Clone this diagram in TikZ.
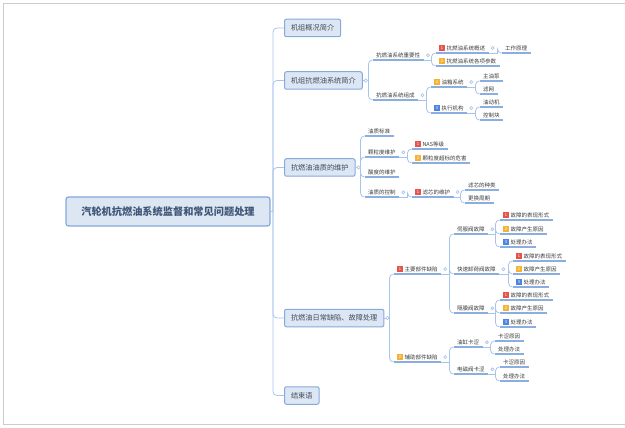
\documentclass[tikz,border=0pt]{standalone}
\usepackage{fontspec}
\setmainfont{Noto Sans CJK SC}
\usepackage{tikz}
\usetikzlibrary{calc}
\definecolor{boxfill}{HTML}{DDE7F3}
\definecolor{boxline}{HTML}{84A9DC}
\definecolor{roottext}{HTML}{3F5677}
\definecolor{topictext}{HTML}{3E4A5C}
\definecolor{leaftext}{HTML}{3A3A3A}
\definecolor{ulinecol}{HTML}{8AAEE2}
\definecolor{linkcol}{HTML}{A9C4EA}
\definecolor{framecol}{HTML}{CCCCCC}
\definecolor{prioRed}{HTML}{E5534B}
\definecolor{prioOrange}{HTML}{F5B335}
\definecolor{prioBlue}{HTML}{4C84E0}
\tikzstyle{root} = [draw=boxline, fill=boxfill, rounded corners=2.5pt, line width=1.2pt, minimum width=204pt, minimum height=29pt, font=\fontsize{10.2}{12}\selectfont\bfseries, text=roottext]
\tikzstyle{topic} = [draw=boxline, fill=boxfill, rounded corners=2pt, line width=1pt, inner xsep=6.5pt, minimum height=17.5pt, anchor=west, font=\fontsize{7.2}{8}\selectfont, text=topictext]
\tikzstyle{uline} = [draw=ulinecol, line width=1.3pt]
\tikzstyle{leaf} = [inner xsep=3.5pt, inner ysep=2pt, anchor=south west, font=\fontsize{5.5}{6}\selectfont, text=leaftext, append after command={(\tikzlastnode.south west) edge[uline] (\tikzlastnode.south east)}]
\tikzstyle{link} = [draw=linkcol, line width=0.8pt]
\tikzstyle{knob} = [draw=linkcol, fill=white, line width=0.6pt]
\tikzstyle{frame} = [draw=framecol, line width=0.8pt]
% priority badge in front of a topic
\newcommand{\prio}[2]{{\setlength{\fboxsep}{0pt}\raisebox{-0.5pt}{\colorbox{#1}{\makebox[5.5pt]{\rule{0pt}{5.5pt}\raisebox{0.9pt}{\fontsize{4}{4}\selectfont\color{white}#2}}}}}\hspace{1.8pt}}
% parent anchor -> fork -> child anchor
\newcommand{\branch}[3][4]{%
	\coordinate (fork) at ($(#3 |- #2)+(-#1,0)$);
	\draw[link] (#2) -- (fork);
	\draw[link, rounded corners=4pt] (fork) |- (#3);
}

\begin{document}
\begin{tikzpicture}[x=1pt, y=-1pt]
		\useasboundingbox (0,0) rectangle (625,428);
		\draw[frame] (3,3.5) -- (625,3.5);
		\draw[frame] (3.5,3) -- (3.5,424);
		\draw[frame] (3,424) -- (625,424);
		
		\node[root] (main) at (168,211.5) {汽轮机抗燃油系统监督和常见问题处理};
		
		\node[topic] (gen) at (284,28) {机组概况简介};
		\node[topic] (intro) at (284,80.5) {机组抗燃油系统简介};
		\node[topic] (oil) at (284,167.5) {抗燃油油质的维护};
		\node[topic] (fault) at (284,318) {抗燃油日常缺陷、故障处理};
		\node[topic] (concl) at (284,395.5) {结束语};
		
		% system introduction
		\node[leaf] (imp) at (372.5,60) {抗燃油系统重要性};
		\node[leaf] (comp) at (372.5,100) {抗燃油系统组成};
		\node[leaf] (over) at (435.5,53) {\prio{prioRed}{1}抗燃油系统概述};
		\node[leaf] (param) at (435.5,66) {\prio{prioOrange}{2}抗燃油系统各项参数};
		\node[leaf] (princ) at (501.5,53) {工作原理};
		\node[leaf] (tank) at (430.5,87) {\prio{prioOrange}{2}油箱系统};
		\node[leaf] (actu) at (430.5,113) {\prio{prioBlue}{3}执行机构};
		\node[leaf] (pump) at (479.5,81) {主油泵};
		\node[leaf] (strain) at (479.5,94) {滤网};
		\node[leaf] (servo) at (479.5,107) {油动机};
		\node[leaf] (block) at (479.5,120) {控制块};
		
		% oil quality
		\node[leaf] (std) at (364.5,136) {油质标准};
		\node[leaf] (grain) at (364.5,157) {颗粒度维护};
		\node[leaf] (acid) at (364.5,177) {酸度的维护};
		\node[leaf] (ctrl) at (364.5,197) {油质的控制};
		\node[leaf] (nas) at (411.5,149) {\prio{prioRed}{1}NAS等级};
		\node[leaf] (harm) at (411.5,163) {\prio{prioOrange}{2}颗粒度超标的危害};
		\node[leaf] (elem) at (411.5,197) {\prio{prioRed}{1}滤芯的维护};
		\node[leaf] (kind) at (464.5,190) {滤芯的种类};
		\node[leaf] (cycle) at (464.5,203) {更换周期};
		
		% defects and faults
		\node[leaf] (major) at (393.5,274) {\prio{prioRed}{1}主要部件缺陷};
		\node[leaf] (minor) at (393.5,362) {\prio{prioOrange}{2}辅助部件缺陷};
		\node[leaf] (sv) at (453.5,234) {伺服阀故障};
		\node[leaf] (qv) at (453.5,274) {快速卸荷阀故障};
		\node[leaf] (dv) at (453.5,313) {隔膜阀故障};
		\node[leaf] (sv1) at (499.5,220) {\prio{prioRed}{1}故障的表现形式};
		\node[leaf] (sv2) at (499.5,234) {\prio{prioOrange}{2}故障产生原因};
		\node[leaf] (sv3) at (499.5,247) {\prio{prioBlue}{3}处理办法};
		\node[leaf] (qv1) at (512.5,261) {\prio{prioRed}{1}故障的表现形式};
		\node[leaf] (qv2) at (512.5,274) {\prio{prioOrange}{2}故障产生原因};
		\node[leaf] (qv3) at (512.5,287) {\prio{prioBlue}{3}处理办法};
		\node[leaf] (dv1) at (499.5,300) {\prio{prioRed}{1}故障的表现形式};
		\node[leaf] (dv2) at (499.5,313) {\prio{prioOrange}{2}故障产生原因};
		\node[leaf] (dv3) at (499.5,327) {\prio{prioBlue}{3}处理办法};
		\node[leaf] (cyl) at (453.5,347) {油缸卡涩};
		\node[leaf] (sol) at (453.5,374) {电磁阀卡涩};
		\node[leaf] (cyl1) at (494.5,341) {卡涩原因};
		\node[leaf] (cyl2) at (494.5,354) {处理办法};
		\node[leaf] (sol1) at (499.5,367) {卡涩原因};
		\node[leaf] (sol2) at (499.5,381) {处理办法};
		
		\foreach \kid in {gen,intro,oil,fault,concl} {\branch[11]{main.east}{\kid.west}}
		\foreach \kid in {imp,comp} {\branch{intro.east}{\kid.south west}}
		\foreach \kid in {over,param} {\branch{imp.south east}{\kid.south west}}
		\branch{over.south east}{princ.south west}
		\foreach \kid in {tank,actu} {\branch{comp.south east}{\kid.south west}}
		\foreach \kid in {pump,strain} {\branch{tank.south east}{\kid.south west}}
		\foreach \kid in {servo,block} {\branch{actu.south east}{\kid.south west}}
		\foreach \kid in {std,grain,acid,ctrl} {\branch{oil.east}{\kid.south west}}
		\foreach \kid in {nas,harm} {\branch{grain.south east}{\kid.south west}}
		\branch{ctrl.south east}{elem.south west}
		\foreach \kid in {kind,cycle} {\branch{elem.south east}{\kid.south west}}
		\foreach \kid in {major,minor} {\branch{fault.east}{\kid.south west}}
		\foreach \kid in {sv,qv,dv} {\branch{major.south east}{\kid.south west}}
		\foreach \kid in {sv1,sv2,sv3} {\branch{sv.south east}{\kid.south west}}
		\foreach \kid in {qv1,qv2,qv3} {\branch{qv.south east}{\kid.south west}}
		\foreach \kid in {dv1,dv2,dv3} {\branch{dv.south east}{\kid.south west}}
		\foreach \kid in {cyl,sol} {\branch{minor.south east}{\kid.south west}}
		\foreach \kid in {cyl1,cyl2} {\branch{cyl.south east}{\kid.south west}}
		\foreach \kid in {sol1,sol2} {\branch{sol.south east}{\kid.south west}}
		
		\foreach \p in {intro,oil,fault} \draw[knob] ([xshift=3pt]\p.east) circle (1.7pt);
		\foreach \p in {imp,comp,over,tank,actu,grain,ctrl,elem,major,minor,sv,qv,dv,cyl,sol} \draw[knob] ([xshift=4pt]\p.east) circle (1.5pt);
	\end{tikzpicture}
\end{document}
